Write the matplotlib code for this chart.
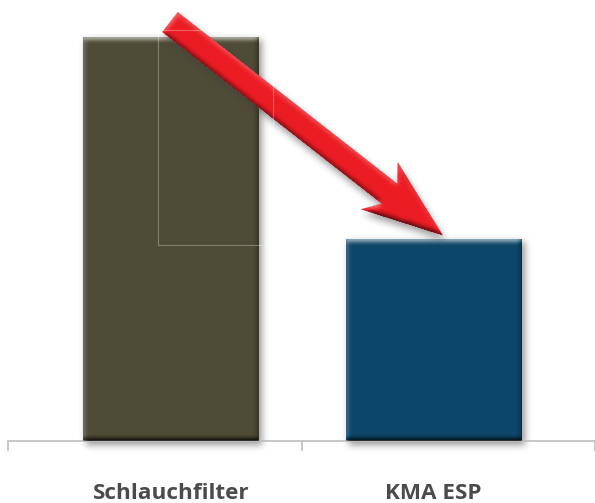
import numpy as np
import matplotlib
matplotlib.use("Agg")
import matplotlib.pyplot as plt
from matplotlib.path import Path
from matplotlib.patches import Polygon, Rectangle

# chart data
categories = ["Schlauchfilter", "KMA ESP"]
values = [100, 50]
positions = [0.555, 1.45]
bar_colors = ["#4e4b36", "#0e4669"]
tick_positions = [0, 1, 2]

# arrow annotation (pixel space, image rows from top)
arrow_tail = np.array([170.0, 22.0])
arrow_tip = np.array([443.0, 235.5])
shaft_hw = 12.7
head_hw = 30.0
head_len = 81.0
junction_back = 68.0
arrow_color = "#ec1c24"

W, H = 595, 503
fig = plt.figure(figsize=(W / 100, H / 100), dpi=100, facecolor="white")

# main axes: baseline ~441 px from top, first tick at x=8 px
ax = fig.add_axes([8 / W, 62 / H, 1 - 8 / W, 441 / H], zorder=1)
ax.patch.set_alpha(0)
ax.set_xlim(0, 587 / 297)
ax.set_ylim(0, 109.2)
bars = ax.bar(positions, values, width=0.6, color=bar_colors, zorder=2)
for s in ("top", "right", "left"):
    ax.spines[s].set_visible(False)
ax.spines["bottom"].set_color("#bdbdbd")
ax.spines["bottom"].set_linewidth(1.2)
ax.set_xticks(tick_positions)
ax.set_xticklabels([])
ax.tick_params(axis="x", length=7.5, width=1.2, color="#bdbdbd")
ax.set_yticks([])
for p, c in zip(positions, categories):
    ax.annotate(c, xy=(p, 0), xytext=(0, -41.5), textcoords="offset points",
                ha="center", va="baseline", fontsize=16.2, fontweight="bold",
                family=["Open Sans", "DejaVu Sans"], color="#4b4b4b")


def box(a, r, axis):
    a = np.swapaxes(a, 0, axis)
    pad = np.pad(a, ((r + 1, r), (0, 0)), mode="edge")
    c = np.cumsum(pad, axis=0)
    out = (c[2 * r + 1:] - c[:-2 * r - 1]) / (2 * r + 1)
    return np.swapaxes(out, 0, axis)


def blur(a, r, passes=3):
    for _ in range(passes):
        a = box(box(a, r, 0), r, 1)
    return a


yy, xx = np.mgrid[0:H, 0:W] + 0.5


def bar_px(patch):
    x0, y0 = patch.get_x(), patch.get_y()
    x1, y1 = x0 + patch.get_width(), y0 + patch.get_height()
    (px0, py0), (px1, py1) = ax.transData.transform([(x0, y0), (x1, y1)])
    return px0, H - py1, px1, H - py0


def rect_mask(x0, y0, x1, y1):
    return ((xx >= x0) & (xx < x1) & (yy >= y0) & (yy < y1)).astype(float)


def bevel(mask, r, lx, ly, k_light, k_dark):
    b = blur(mask, r)
    gy, gx = np.gradient(b)
    shade = gx * lx + gy * ly
    shade = shade / np.abs(shade).max() * mask
    rgba = np.zeros((H, W, 4))
    pos = shade > 0
    rgba[pos, :3] = 1.0
    rgba[..., 3] = np.where(pos, k_light * shade, -k_dark * shade)
    return np.clip(rgba, 0, 1)


def shadow_layer(mask, r, alpha, gray=0.25):
    s = blur(mask, r)
    rgba = np.zeros((H, W, 4))
    rgba[..., :3] = gray
    rgba[..., 3] = alpha * s
    return rgba


# bar drop shadows and bevels
bar_rects = [bar_px(b) for b in bars]
shadow_mask = sum(rect_mask(x0 + 3, y0 + 3, x1 + 3, y1 + 4) for x0, y0, x1, y1 in bar_rects)
body_mask = sum(rect_mask(*r) for r in bar_rects)

bg = fig.add_axes([0, 0, 1, 1], zorder=0)
bg.axis("off")
bg.imshow(shadow_layer(shadow_mask, 3, 0.55), extent=(0, W, H, 0), aspect="auto",
          interpolation="bilinear")
bg.set_xlim(0, W)
bg.set_ylim(H, 0)

ov = fig.add_axes([0, 0, 1, 1], zorder=2)
ov.axis("off")
ov.patch.set_alpha(0)
ov.imshow(bevel(body_mask, 2, 0.35, 1.0, 0.5, 0.75), extent=(0, W, H, 0),
          aspect="auto", interpolation="bilinear", zorder=1)

# arrow
u = (arrow_tip - arrow_tail) / np.linalg.norm(arrow_tip - arrow_tail)
n = np.array([u[1], -u[0]])
poly = np.array([
    arrow_tail + n * shaft_hw,
    arrow_tip - u * junction_back + n * shaft_hw,
    arrow_tip - u * head_len + n * head_hw,
    arrow_tip,
    arrow_tip - u * head_len - n * head_hw,
    arrow_tip - u * junction_back - n * shaft_hw,
    arrow_tail - n * shaft_hw,
])
pts = np.column_stack([xx.ravel(), yy.ravel()])
arrow_mask = Path(poly).contains_points(pts).reshape(H, W).astype(float)
arrow_shadow = Path(poly + np.array([2.0, 5.0])).contains_points(pts).reshape(H, W).astype(float)

ov.imshow(shadow_layer(arrow_shadow, 3, 0.5), extent=(0, W, H, 0), aspect="auto",
          interpolation="bilinear", zorder=2)
ov.add_patch(Polygon(poly, closed=True, facecolor=arrow_color, edgecolor="none", zorder=3))
ov.imshow(bevel(arrow_mask, 2, 0.3, 1.0, 0.3, 0.6), extent=(0, W, H, 0), aspect="auto",
          interpolation="bilinear", zorder=4)

# faint frame left over in the original artwork
ov.add_patch(Rectangle((158, 30), 115, 215, fill=False, edgecolor="white",
                       alpha=0.3, linewidth=0.8, zorder=5))
ov.set_xlim(0, W)
ov.set_ylim(H, 0)

fig.savefig("out.png", dpi=100, facecolor="white")
